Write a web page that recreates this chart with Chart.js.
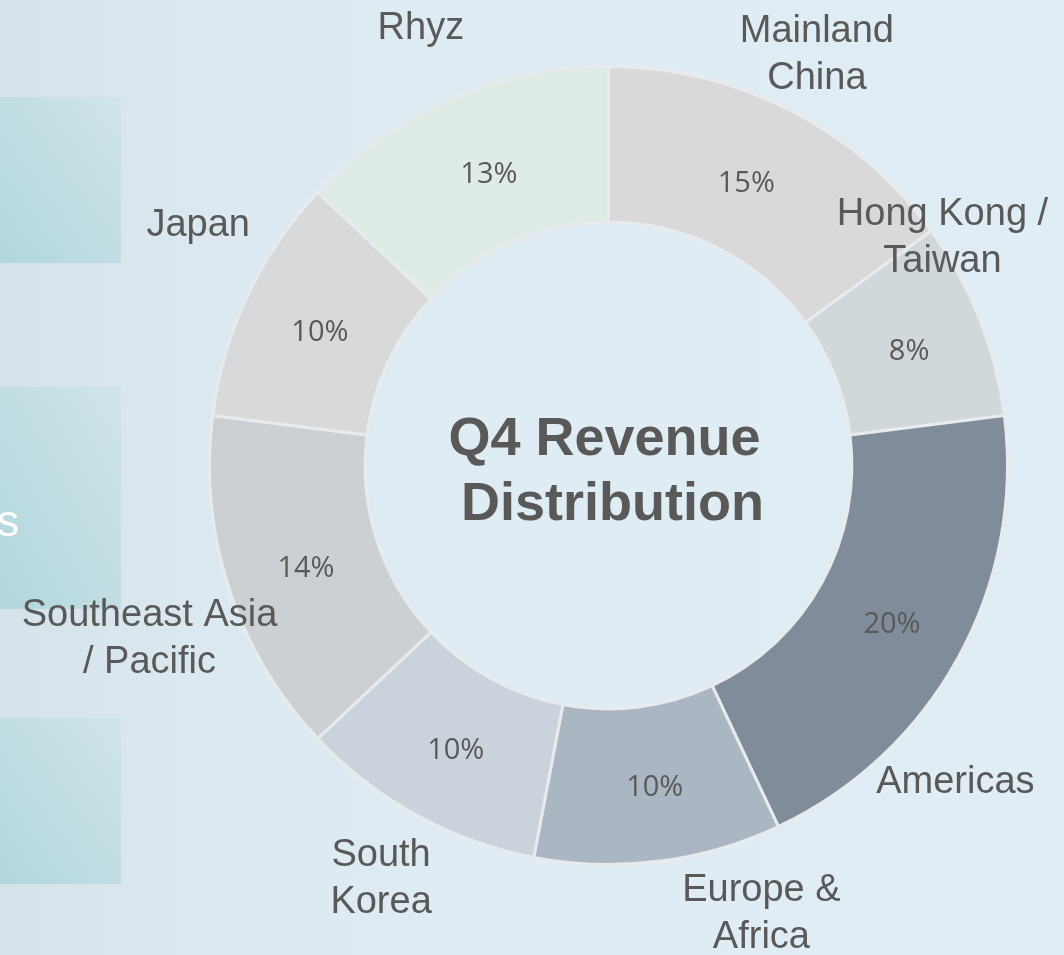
<!DOCTYPE html>
<html>
<head>
<meta charset="utf-8">
<script src="https://cdn.jsdelivr.net/npm/chart.js@4.4.1/dist/chart.umd.min.js"></script>
<style>
    html, body { margin: 0; padding: 0; }
    body {
        width: 1064px; height: 955px; overflow: hidden; position: relative;
        background: linear-gradient(to right, #d5e2e9 0%, #d9e6ed 11%, #dde9f0 22%, #dfecf3 45%, #e0edf5 100%);
        font-family: "Liberation Sans", Arial, sans-serif;
    }
    .panel {
        position: absolute; left: 0; width: 121px;
        background: linear-gradient(to bottom left, #d0e5ea 0%, #bfdde2 55%, #b0d7db 100%);
    }
    .panel-text {
        position: absolute; right: 1045px; top: 496px;
        color: #ffffff; font-size: 44px; line-height: 50px; white-space: nowrap;
    }
    #wrap { position: absolute; left: 0; top: 0; width: 1064px; height: 955px; }
</style>
</head>
<body>
<div class="panel" style="top:97px;height:166px;"></div>
<div class="panel" style="top:387px;height:222px;"></div>
<div class="panel" style="top:718px;height:166px;"></div>
<div class="panel-text">s</div>
<div id="wrap"><canvas id="revenueChart"></canvas></div>

<script>
// ─── DATA ────────────────────────────────────────────────────────────────
var regions = [
    ['Mainland', 'China'],
    ['Hong Kong /', 'Taiwan'],
    ['Americas'],
    ['Europe &', 'Africa'],
    ['South', 'Korea'],
    ['Southeast Asia', '/ Pacific'],
    ['Japan'],
    ['Rhyz']
];
var sharePct = [15, 8, 20, 10, 10, 14, 10, 13];
var sliceColors = ['#d9d9db', '#d1d8dc', '#808c99', '#aab6c1', '#cad3db', '#cbd0d4', '#d8d9da', '#deebe7'];
var centerTitle = ['Q4 Revenue', 'Distribution'];

// ─── LABEL PLUGIN ────────────────────────────────────────────────────────
// category names sit outside the ring, nudged by hand like the slide
var labelNudge = [[-5, 6], [-103, -56], [-65, 89], [94, -20], [-1, 0], [-12, 26], [15, -42], [-1, -8]];
var pctNudge = [[-8, 4], [2, 4], [2, 4], [6, 4], [2, 4], [3, 4], [2, 4], [8, 4]];

var ringLabels = {
    id: 'ringLabels',
    afterDatasetsDraw: function (chart) {
        var ctx = chart.ctx;
        var meta = chart.getDatasetMeta(0);
        ctx.save();
        ctx.textAlign = 'center';
        ctx.textBaseline = 'middle';
        ctx.fillStyle = '#595959';

        meta.data.forEach(function (arc, i) {
            var p = arc.getProps(['x', 'y', 'startAngle', 'endAngle', 'outerRadius'], true);
            var mid = (p.startAngle + p.endAngle) / 2;

            // percent inside the ring
            var c = arc.getCenterPoint();
            ctx.font = '29px "Open Sans", "Noto Sans", sans-serif';
            ctx.fillText(sharePct[i] + '%', c.x + pctNudge[i][0], c.y + pctNudge[i][1]);

            // region name outside
            var r = p.outerRadius + 71;
            var lx = p.x + Math.cos(mid) * r + labelNudge[i][0];
            var ly = p.y + Math.sin(mid) * r + labelNudge[i][1];
            var lines = chart.data.labels[i];
            ctx.font = '38px "Liberation Sans", Arial, sans-serif';
            var lh = 47;
            var top = ly - (lines.length - 1) * lh / 2;
            lines.forEach(function (t, k) {
                ctx.fillText(t, lx, top + k * lh + 2);
            });
        });

        // title in the hole
        var a = meta.data[0];
        ctx.font = 'bold 54px "Liberation Sans", Arial, sans-serif';
        ctx.textBaseline = 'alphabetic';
        ctx.fillText(centerTitle[0], a.x - 4, a.y - 11);
        ctx.fillText(centerTitle[1], a.x + 4, a.y + 54);
        ctx.restore();
    }
};

new Chart(document.getElementById('revenueChart').getContext('2d'), {
    type: 'doughnut',
    data: {
        labels: regions,
        datasets: [{
            data: sharePct,
            backgroundColor: sliceColors,
            borderColor: '#e8ebed',
            borderWidth: 3,
            hoverOffset: 0
        }]
    },
    options: {
        responsive: true,
        maintainAspectRatio: false,
        animation: false,
        cutout: '61%',
        layout: { padding: { left: 208, right: 55, top: 64, bottom: 88 } },
        plugins: {
            legend: { display: false },
            tooltip: { enabled: false }
        }
    },
    plugins: [ringLabels]
});
</script>
</body>
</html>
